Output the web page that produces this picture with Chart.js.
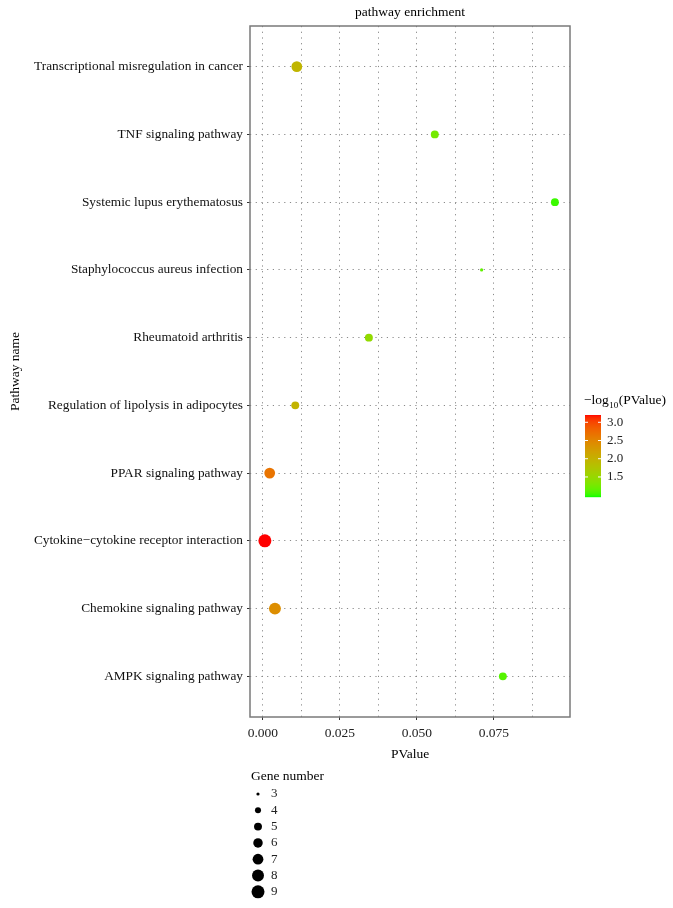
<!DOCTYPE html>
<html>
<head>
<meta charset="utf-8">
<script src="https://cdn.jsdelivr.net/npm/chart.js@4"></script>
<style>
  html, body { margin: 0; padding: 0; background: #fff; }
  #wrap { width: 673px; height: 908px; }
</style>
</head>
<body>
<div id="wrap"><canvas id="myChart" width="673" height="908"></canvas></div>
<script>
// pathways from bottom (y=1) to top (y=10)
var pathways = [
    'AMPK signaling pathway',
    'Chemokine signaling pathway',
    'Cytokine\u2212cytokine receptor interaction',
    'PPAR signaling pathway',
    'Regulation of lipolysis in adipocytes',
    'Rheumatoid arthritis',
    'Staphylococcus aureus infection',
    'Systemic lupus erythematosus',
    'TNF signaling pathway',
    'Transcriptional misregulation in cancer'
];
var pValues = [0.0779, 0.0039, 0.00063, 0.0022, 0.0105, 0.0344, 0.0710, 0.0948, 0.0558, 0.0110];
var geneCounts = [5, 8, 9, 7, 5, 5, 3, 5, 5, 7];

var xTicks = [0, 0.0125, 0.025, 0.0375, 0.05, 0.0625, 0.075, 0.0875];
var colorTicks = [1.5, 2.0, 2.5, 3.0];
var geneLegend = [3, 4, 5, 6, 7, 8, 9];

var colorMin = 0.95, colorMax = 3.2;
var FONT = "'Liberation Serif', 'DejaVu Serif', serif";

// ---- colour: green -> red interpolated in Lab (like ggplot) ----
function toLin(c) { c /= 255; return c <= 0.04045 ? c / 12.92 : Math.pow((c + 0.055) / 1.055, 2.4); }
function fromLin(c) { c = c <= 0.0031308 ? 12.92 * c : 1.055 * Math.pow(c, 1 / 2.4) - 0.055; return Math.round(Math.max(0, Math.min(1, c)) * 255); }
function rgbToLab(r, g, b) {
    r = toLin(r); g = toLin(g); b = toLin(b);
    var x = (r * 0.4124 + g * 0.3576 + b * 0.1805) / 0.95047;
    var y = (r * 0.2126 + g * 0.7152 + b * 0.0722);
    var z = (r * 0.0193 + g * 0.1192 + b * 0.9505) / 1.08883;
    var f = function (t) { return t > 0.008856 ? Math.cbrt(t) : 7.787 * t + 16 / 116; };
    return [116 * f(y) - 16, 500 * (f(x) - f(y)), 200 * (f(y) - f(z))];
}
function labToRgb(L, a, bb) {
    var fy = (L + 16) / 116, fx = fy + a / 500, fz = fy - bb / 200;
    var fi = function (t) { return t * t * t > 0.008856 ? t * t * t : (t - 16 / 116) / 7.787; };
    var x = fi(fx) * 0.95047, y = fi(fy), z = fi(fz) * 1.08883;
    var r = x * 3.2406 + y * -1.5372 + z * -0.4986;
    var g = x * -0.9689 + y * 1.8758 + z * 0.0415;
    var b = x * 0.0557 + y * -0.2040 + z * 1.0570;
    return 'rgb(' + fromLin(r) + ',' + fromLin(g) + ',' + fromLin(b) + ')';
}
var labLow = rgbToLab(0, 255, 0);
var labHigh = rgbToLab(255, 0, 0);
function colourFor(v) {
    var t = (v - colorMin) / (colorMax - colorMin);
    t = Math.max(0, Math.min(1, t));
    return labToRgb(labLow[0] + (labHigh[0] - labLow[0]) * t,
                    labLow[1] + (labHigh[1] - labLow[1]) * t,
                    labLow[2] + (labHigh[2] - labLow[2]) * t);
}

// area scaled point radius, 3 genes -> small dot, 9 genes -> biggest
function radiusFor(n) {
    var rMin = 1.6, rMax = 6.5;
    var t = (n - 3) / (9 - 3);
    return Math.sqrt(rMin * rMin + t * (rMax * rMax - rMin * rMin));
}

var points = [];
var colours = [];
for (var i = 0; i < pathways.length; i++) {
    points.push({ x: pValues[i], y: i + 1, r: radiusFor(geneCounts[i]) });
    colours.push(colourFor(-Math.log10(pValues[i])));
}

var extras = {
    id: 'extras',
    afterDraw: function (chart) {
        var ctx = chart.ctx;
        var a = chart.chartArea;
        ctx.save();

        // panel border
        ctx.strokeStyle = '#7a7a7a';
        ctx.lineWidth = 1.5;
        ctx.strokeRect(a.left, a.top, a.right - a.left, a.bottom - a.top);

        ctx.fillStyle = '#000';
        ctx.font = '13.5px ' + FONT;
        ctx.textAlign = 'center';
        ctx.textBaseline = 'middle';
        ctx.fillText('pathway enrichment', (a.left + a.right) / 2, 12);
        ctx.fillText('PValue', (a.left + a.right) / 2, 754);

        ctx.save();
        ctx.translate(15, (a.top + a.bottom) / 2);
        ctx.rotate(-Math.PI / 2);
        ctx.fillText('Pathway name', 0, 0);
        ctx.restore();

        // colour bar
        var bx = 585, bw = 16, by = 415, bh = 82;
        for (var k = 0; k < bh; k++) {
            var v = colorMax - (k + 0.5) / bh * (colorMax - colorMin);
            ctx.fillStyle = colourFor(v);
            ctx.fillRect(bx, by + k, bw, 1.2);
        }
        ctx.textAlign = 'left';
        ctx.textBaseline = 'alphabetic';
        ctx.fillStyle = '#000';
        ctx.font = '13.5px ' + FONT;
        var tx = 584;
        ctx.fillText('\u2212log', tx, 404);
        tx += ctx.measureText('\u2212log').width + 0.5;
        ctx.font = '9px ' + FONT;
        ctx.fillText('10', tx, 408);
        tx += ctx.measureText('10').width + 0.5;
        ctx.font = '13.5px ' + FONT;
        ctx.fillText('(PValue)', tx, 404);

        ctx.textBaseline = 'middle';
        ctx.font = '13px ' + FONT;
        colorTicks.forEach(function (t) {
            var yy = by + (colorMax - t) / (colorMax - colorMin) * bh;
            ctx.strokeStyle = '#fff';
            ctx.lineWidth = 1;
            ctx.beginPath();
            ctx.moveTo(bx, yy); ctx.lineTo(bx + 3, yy);
            ctx.moveTo(bx + bw - 3, yy); ctx.lineTo(bx + bw, yy);
            ctx.stroke();
            ctx.fillStyle = '#222';
            ctx.fillText(t.toFixed(1), 607, yy);
        });

        // gene number legend
        ctx.fillStyle = '#000';
        ctx.font = '13.5px ' + FONT;
        ctx.fillText('Gene number', 251, 776);
        ctx.font = '13px ' + FONT;
        geneLegend.forEach(function (n, j) {
            var yy = 794 + j * 16.3;
            ctx.fillStyle = '#000';
            ctx.beginPath();
            ctx.arc(258, yy, radiusFor(n), 0, Math.PI * 2);
            ctx.fill();
            ctx.fillStyle = '#222';
            ctx.fillText(String(n), 271, yy);
        });

        ctx.restore();
    }
};

var ctx = document.getElementById('myChart');
var chart = new Chart(ctx, {
    type: 'bubble',
    data: {
        datasets: [{
            data: points,
            backgroundColor: colours,
            borderColor: colours,
            borderWidth: 0
        }]
    },
    options: {
        responsive: false,
        animation: false,
        layout: { padding: { top: 26, right: 103, left: 0, bottom: 0 } },
        plugins: {
            legend: { display: false },
            tooltip: { enabled: false },
            title: { display: false }
        },
        scales: {
            x: {
                type: 'linear',
                min: -0.0042,
                max: 0.0997,
                afterBuildTicks: function (scale) {
                    scale.ticks = xTicks.map(function (v) { return { value: v }; });
                },
                afterFit: function (scale) { scale.height = 191; },
                grid: {
                    color: '#8a8a8a',
                    lineWidth: 1,
                    tickLength: 3,
                    tickColor: function (c) {
                        return c.tick && Math.round(c.tick.value * 10000) % 250 === 0 ? '#333' : 'rgba(0,0,0,0)';
                    }
                },
                border: { display: false, dash: [1.2, 4.5] },
                ticks: {
                    autoSkip: false,
                    maxRotation: 0,
                    padding: 5,
                    color: '#222',
                    font: { family: FONT, size: 13.5 },
                    callback: function (v) {
                        return Math.round(v * 10000) % 250 === 0 ? v.toFixed(3) : '';
                    }
                }
            },
            y: {
                type: 'linear',
                min: 0.4,
                max: 10.6,
                afterBuildTicks: function (scale) {
                    scale.ticks = pathways.map(function (p, i) { return { value: i + 1 }; });
                },
                afterFit: function (scale) { scale.width = 250; },
                grid: {
                    color: '#8a8a8a',
                    lineWidth: 1,
                    tickLength: 3,
                    tickColor: '#333'
                },
                border: { display: false, dash: [1.2, 4.5] },
                ticks: {
                    autoSkip: false,
                    padding: 4,
                    color: '#111',
                    font: { family: FONT, size: 13.3 },
                    callback: function (v) { return pathways[v - 1]; }
                }
            }
        }
    },
    plugins: [extras]
});
</script>
</body>
</html>
